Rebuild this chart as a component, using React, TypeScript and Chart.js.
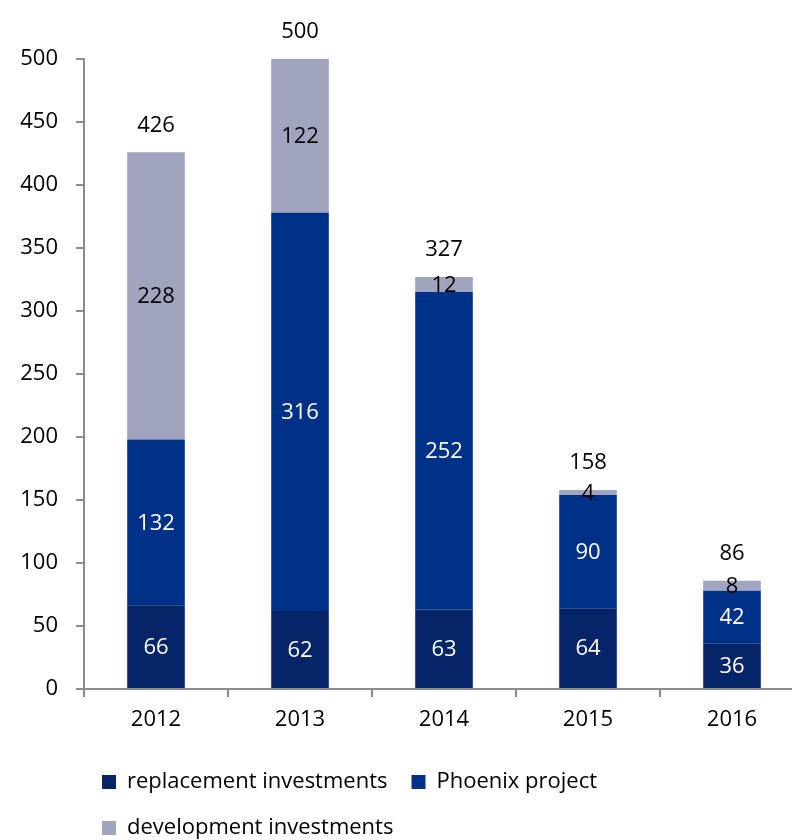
import React, { useEffect, useRef } from "react";
import { Chart, registerables } from "chart.js";

Chart.register(...registerables);

const categories = ["2012", "2013", "2014", "2015", "2016"];
const replacementInvestments = [66, 62, 63, 64, 36];
const phoenixProject = [132, 316, 252, 90, 42];
const developmentInvestments = [228, 122, 12, 4, 8];
const yTicks = [0, 50, 100, 150, 200, 250, 300, 350, 400, 450, 500];

const FONT = "'Open Sans', 'DejaVu Sans', sans-serif";
const AXIS = "#8c8c8c";

const labelPlugin = {
  id: "segLabels",
  afterDatasetsDraw(chart: any) {
    const ctx = chart.ctx;
    ctx.save();
    ctx.font = `22px ${FONT}`;
    ctx.textAlign = "center";
    ctx.textBaseline = "middle";
    chart.data.datasets.forEach((ds: any, i: number) => {
      const meta = chart.getDatasetMeta(i);
      meta.data.forEach((bar: any, j: number) => {
        const { x, y, base } = bar.getProps(["x", "y", "base"], true);
        ctx.fillStyle = i === 2 ? "#000" : "#fff";
        ctx.fillText(String(ds.data[j]), x, (y + base) / 2 + 1);
      });
    });
    const last = chart.getDatasetMeta(chart.data.datasets.length - 1);
    last.data.forEach((bar: any, j: number) => {
      const { x, y } = bar.getProps(["x", "y"], true);
      const total = chart.data.datasets.reduce((s: number, ds: any) => s + ds.data[j], 0);
      ctx.fillStyle = "#000";
      ctx.fillText(String(total), x, y - 27);
    });
    ctx.restore();
  },
};

const legendShift = {
  id: "legendShift",
  afterLayout(chart: any) {
    const lg = chart.legend;
    if (lg) {
      lg.left += 78;
      lg.right += 78;
    }
  },
};

export default function App() {
  const ref = useRef<HTMLCanvasElement>(null);
  useEffect(() => {
    document.body.style.margin = "0";
    document.body.style.overflow = "hidden";
    const chart = new Chart(ref.current as HTMLCanvasElement, {
      type: "bar",
      data: {
        labels: categories,
        datasets: [
          { label: "replacement investments", data: replacementInvestments, backgroundColor: "#062468" },
          { label: "Phoenix project", data: phoenixProject, backgroundColor: "#003189" },
          { label: "development investments", data: developmentInvestments, backgroundColor: "#a0a4bf" },
        ],
      },
      options: {
        responsive: false,
        animation: false,
        layout: { padding: { top: 59, right: 8, left: 0, bottom: 0 } },
        datasets: { bar: { barPercentage: 0.4, categoryPercentage: 1 } },
        plugins: {
          tooltip: { enabled: false },
          legend: {
            position: "bottom",
            align: "start",
            labels: {
              boxWidth: 14,
              boxHeight: 14,
              color: "#000",
              padding: 24,
              font: { family: FONT, size: 22 },
            },
          },
        },
        scales: {
          x: {
            stacked: true,
            border: { color: AXIS, width: 2 },
            grid: { drawOnChartArea: false, drawTicks: true, tickLength: 8, color: AXIS, lineWidth: 2, offset: true },
            ticks: { color: "#000", padding: 10, font: { family: FONT, size: 22 } },
            afterFit: (s: any) => { s.height = 58; },
          },
          y: {
            stacked: true,
            min: 0,
            max: 500,
            afterBuildTicks: (s: any) => { s.ticks = yTicks.map((v) => ({ value: v })); },
            border: { color: AXIS, width: 2 },
            grid: { drawOnChartArea: false, drawTicks: true, tickLength: 8, color: AXIS, lineWidth: 2 },
            ticks: { color: "#000", padding: 18, font: { family: FONT, size: 22 } },
            afterFit: (s: any) => { s.width = 84; },
          },
        },
      },
      plugins: [labelPlugin, legendShift],
    });
    return () => chart.destroy();
  }, []);
  return (
    <div style={{ width: 812, height: 849 }}>
      <canvas ref={ref} width={812} height={849} />
    </div>
  );
}
